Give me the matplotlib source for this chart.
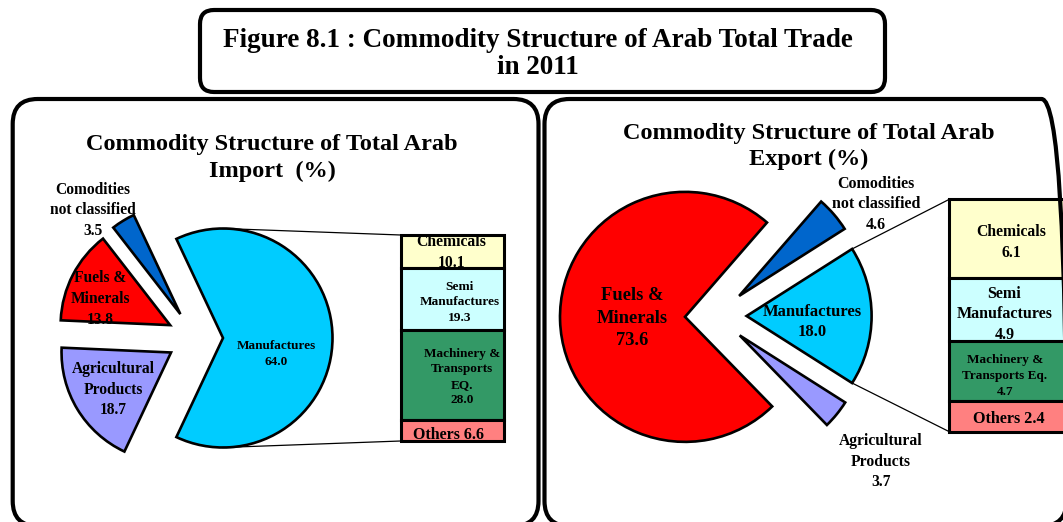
import matplotlib
matplotlib.use("Agg")
import matplotlib.pyplot as plt
from matplotlib.patches import FancyBboxPatch
import numpy as np

# ---------------- data ----------------
main_title = "Figure 8.1 : Commodity Structure of Arab Total Trade\nin 2011"
imp_title = "Commodity Structure of Total Arab\nImport  (%)"
exp_title = "Commodity Structure of Total Arab\nExport (%)"

pie_cats_imp = ["Manufactures", "Comodities\nnot classified", "Fuels &\nMinerals", "Agricultural\nProducts"]
pie_vals_imp = [64.0, 3.5, 13.8, 18.7]

pie_cats_exp = ["Manufactures", "Comodities\nnot classified", "Fuels &\nMinerals", "Agricultural\nProducts"]
pie_vals_exp = [18.0, 4.6, 73.6, 3.7]

bar_cats_imp = ["Chemicals", "Semi\nManufactures", "Machinery &\nTransports\nEQ.", "Others"]
bar_vals_imp = [10.1, 19.3, 28.0, 6.6]

bar_cats_exp = ["Chemicals", "Semi\nManufactures", "Machinery &\nTransports Eq.", "Others"]
bar_vals_exp = [6.1, 4.9, 4.7, 2.4]

# ---------------- style ----------------
W, H = 1063, 522
FONT = ["Liberation Serif", "DejaVu Serif"]
pie_colors = ["#00CCFF", "#0066CC", "#FF0000", "#9999FF"]
bar_colors = ["#FFFFCC", "#CCFFFF", "#339966", "#FF8080"]

fig = plt.figure(figsize=(W / 100, H / 100), dpi=100)
fig.patch.set_facecolor("white")


def Y(y):
    return H - y


def label(cat, val):
    sep = " " if cat == "Others" else "\n"
    return f"{cat}{sep}{val:.1f}"


def bar_axes(left, right, top, bottom, vals, colors):
    ax = fig.add_axes([left / W, (H - bottom) / H, (right - left) / W, (bottom - top) / H], zorder=1)
    cum = 0.0
    for v, c in zip(vals, colors):
        ax.bar(0, v, bottom=cum, width=1.0, color=c, edgecolor="black", linewidth=2.2, clip_on=False)
        cum += v
    ax.set_xlim(-0.5, 0.5)
    ax.set_ylim(cum, 0)
    ax.axis("off")
    return ax


# stacked bars (breakdown of Manufactures)
imp_bar_box = (400.7, 504.0, 235.0, 441.0)
exp_bar_box = (949.3, 1072.0, 199.3, 431.7)
bar_axes(*imp_bar_box, bar_vals_imp, bar_colors)
bar_axes(*exp_bar_box, bar_vals_exp, bar_colors)

# background / overlay axes in pixel coordinates
bg = fig.add_axes([0, 0, 1, 1], zorder=5)
bg.patch.set_alpha(0)

# pies
imp_center, imp_r, imp_expl = (195.0, Y(338.0)), 109.5, 28.0
exp_center, exp_r, exp_expl = (715.8, Y(316.0)), 125.0, 30.8

w_imp, _ = bg.pie(pie_vals_imp, colors=pie_colors, center=imp_center, radius=imp_r,
                  explode=[imp_expl] * len(pie_vals_imp),
                  startangle=-pie_vals_imp[0] / sum(pie_vals_imp) * 180.0,
                  wedgeprops=dict(edgecolor="black", linewidth=1.9), frame=True)
w_exp, _ = bg.pie(pie_vals_exp, colors=pie_colors, center=exp_center, radius=exp_r,
                  explode=[exp_expl] * len(pie_vals_exp),
                  startangle=-pie_vals_exp[0] / sum(pie_vals_exp) * 180.0,
                  wedgeprops=dict(edgecolor="black", linewidth=1.9), frame=True)

bg.set_xlim(0, W)
bg.set_ylim(0, H)
bg.set_aspect("auto")
bg.axis("off")


def connectors(wedge, box):
    cx, cy = wedge.center
    r = wedge.r
    a_top = np.deg2rad(min(wedge.theta2, 90.0))
    a_bot = np.deg2rad(max(wedge.theta1, -90.0))
    left, right, top, bottom = box
    bg.plot([cx + r * np.cos(a_top), left], [cy + r * np.sin(a_top), Y(top)], color="black", lw=0.9, zorder=1)
    bg.plot([cx + r * np.cos(a_bot), left], [cy + r * np.sin(a_bot), Y(bottom)], color="black", lw=0.9, zorder=1)


connectors(w_imp[0], imp_bar_box)
connectors(w_exp[0], exp_bar_box)

# frames
bg.add_patch(FancyBboxPatch((12.7, Y(526)), 538.5 - 12.7, 526 - 99, boxstyle="round,pad=0,rounding_size=25",
                            fc="none", ec="black", lw=3.0, clip_on=False, zorder=0.5))
bg.add_patch(FancyBboxPatch((544.5, Y(526)), 1066.5 - 544.5, 526 - 99, boxstyle="round,pad=0,rounding_size=25",
                            fc="none", ec="black", lw=3.0, clip_on=False, zorder=0.5))
bg.add_patch(FancyBboxPatch((200, Y(92)), 685, 82, boxstyle="round,pad=0,rounding_size=14",
                            fc="white", ec="black", lw=3.0, zorder=0.5))

tkw = dict(family=FONT, weight="bold", ha="center", va="center", multialignment="center", zorder=10)

bg.text(538, Y(54), main_title, fontsize=19.5, linespacing=1.14, **tkw)
bg.text(272, Y(158), imp_title, fontsize=17.5, linespacing=1.33, **tkw)
bg.text(809, Y(146.4), exp_title, fontsize=17.5, linespacing=1.33, **tkw)

# labels (positions in pixels)
imp_pie_pos = [(276, 354), (93, 210.5), (100, 299), (113, 389.5)]
imp_pie_fs = [9.5, 11.2, 11.2, 11.2]
imp_bar_pos = [(451.5, 252.8), (460, 302.3), (462, 377), (448.3, 434.8)]
imp_bar_fs = [11.3, 9.6, 9.5, 11.5]
exp_pie_pos = [(812, 322), (876, 204.3), (632.5, 318.2), (881, 461.5)]
exp_pie_fs = [12, 11.5, 13.3, 11.25]
exp_bar_pos = [(1011, 242.3), (1004.5, 314.5), (1005, 376), (1009, 418.8)]
exp_bar_fs = [11.3, 11.5, 9.5, 11.6]

for cats, vals, pos, fss in [(pie_cats_imp, pie_vals_imp, imp_pie_pos, imp_pie_fs),
                             (bar_cats_imp, bar_vals_imp, imp_bar_pos, imp_bar_fs),
                             (pie_cats_exp, pie_vals_exp, exp_pie_pos, exp_pie_fs),
                             (bar_cats_exp, bar_vals_exp, exp_bar_pos, exp_bar_fs)]:
    for c, v, (x, y), fs in zip(cats, vals, pos, fss):
        bg.text(x, Y(y), label(c, v), fontsize=fs, linespacing=1.4, **tkw)

fig.savefig("out.png", dpi=100, facecolor="white")
